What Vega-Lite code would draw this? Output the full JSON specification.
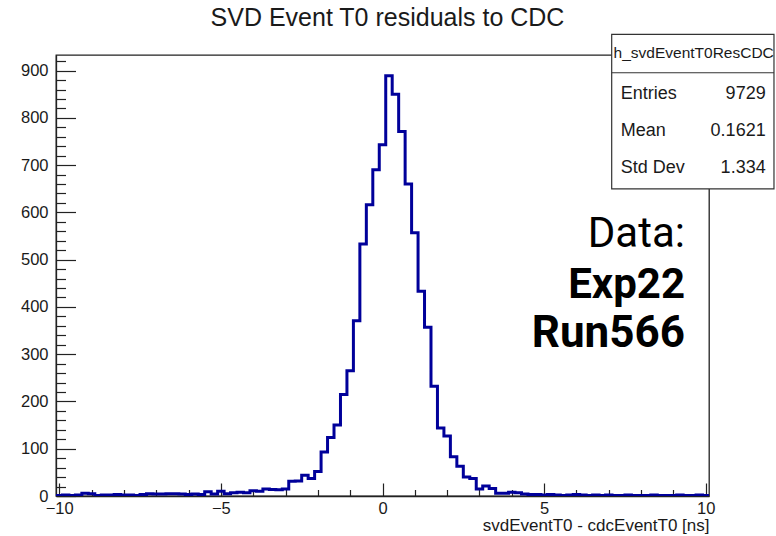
{
  "$schema": "https://vega.github.io/schema/vega-lite/v6.json",
  "width": 653,
  "height": 441,
  "autosize": {"type": "none"},
  "padding": {"left": 56, "top": 55, "right": 67, "bottom": 40},
  "background": "white",
  "config": {
    "view": {"stroke": "#222", "strokeWidth": 1.3},
    "font": "Liberation Sans"
  },
  "title": {
    "text": "SVD Event T0 residuals to CDC",
    "font": "Liberation Sans",
    "fontSize": 25,
    "fontWeight": "normal",
    "color": "#1a1a1a",
    "anchor": "middle",
    "frame": "group",
    "baseline": "alphabetic",
    "offset": -17,
    "dx": 5
  },
  "datasets": {
    "hist": [
      {"edge": -10.1, "entries": 1}, {"edge": -9.9, "entries": 2}, {"edge": -9.7, "entries": 1}, {"edge": -9.5, "entries": 2},
      {"edge": -9.3, "entries": 6}, {"edge": -9.1, "entries": 5}, {"edge": -8.9, "entries": 1}, {"edge": -8.7, "entries": 2},
      {"edge": -8.5, "entries": 2}, {"edge": -8.3, "entries": 3}, {"edge": -8.1, "entries": 2}, {"edge": -7.9, "entries": 2},
      {"edge": -7.7, "entries": 1}, {"edge": -7.5, "entries": 3}, {"edge": -7.3, "entries": 5}, {"edge": -7.1, "entries": 4},
      {"edge": -6.9, "entries": 4}, {"edge": -6.7, "entries": 5}, {"edge": -6.5, "entries": 5}, {"edge": -6.3, "entries": 4},
      {"edge": -6.1, "entries": 3}, {"edge": -5.9, "entries": 4}, {"edge": -5.7, "entries": 3}, {"edge": -5.5, "entries": 9},
      {"edge": -5.3, "entries": 4}, {"edge": -5.1, "entries": 10}, {"edge": -4.9, "entries": 5}, {"edge": -4.7, "entries": 7},
      {"edge": -4.5, "entries": 8}, {"edge": -4.3, "entries": 7}, {"edge": -4.1, "entries": 11}, {"edge": -3.9, "entries": 10},
      {"edge": -3.7, "entries": 15}, {"edge": -3.5, "entries": 14}, {"edge": -3.3, "entries": 13}, {"edge": -3.1, "entries": 15},
      {"edge": -2.9, "entries": 31}, {"edge": -2.7, "entries": 32}, {"edge": -2.5, "entries": 44}, {"edge": -2.3, "entries": 37},
      {"edge": -2.1, "entries": 52}, {"edge": -1.9, "entries": 93}, {"edge": -1.7, "entries": 124}, {"edge": -1.5, "entries": 150},
      {"edge": -1.3, "entries": 215}, {"edge": -1.1, "entries": 265}, {"edge": -0.9, "entries": 371}, {"edge": -0.7, "entries": 533},
      {"edge": -0.5, "entries": 616}, {"edge": -0.3, "entries": 690}, {"edge": -0.1, "entries": 743}, {"edge": 0.1, "entries": 889},
      {"edge": 0.3, "entries": 850}, {"edge": 0.5, "entries": 771}, {"edge": 0.7, "entries": 660}, {"edge": 0.9, "entries": 557},
      {"edge": 1.1, "entries": 433}, {"edge": 1.3, "entries": 357}, {"edge": 1.5, "entries": 232}, {"edge": 1.7, "entries": 144},
      {"edge": 1.9, "entries": 127}, {"edge": 2.1, "entries": 83}, {"edge": 2.3, "entries": 63}, {"edge": 2.5, "entries": 40},
      {"edge": 2.7, "entries": 37}, {"edge": 2.9, "entries": 15}, {"edge": 3.1, "entries": 21}, {"edge": 3.3, "entries": 16},
      {"edge": 3.5, "entries": 6}, {"edge": 3.7, "entries": 6}, {"edge": 3.9, "entries": 8}, {"edge": 4.1, "entries": 7},
      {"edge": 4.3, "entries": 4}, {"edge": 4.5, "entries": 3}, {"edge": 4.7, "entries": 3}, {"edge": 4.9, "entries": 2},
      {"edge": 5.1, "entries": 3}, {"edge": 5.3, "entries": 2}, {"edge": 5.5, "entries": 1}, {"edge": 5.7, "entries": 2},
      {"edge": 5.9, "entries": 3}, {"edge": 6.1, "entries": 2}, {"edge": 6.3, "entries": 1}, {"edge": 6.5, "entries": 2},
      {"edge": 6.7, "entries": 1}, {"edge": 6.9, "entries": 2}, {"edge": 7.1, "entries": 1}, {"edge": 7.3, "entries": 1},
      {"edge": 7.5, "entries": 2}, {"edge": 7.7, "entries": 1}, {"edge": 7.9, "entries": 1}, {"edge": 8.1, "entries": 1},
      {"edge": 8.3, "entries": 2}, {"edge": 8.5, "entries": 1}, {"edge": 8.7, "entries": 1}, {"edge": 8.9, "entries": 1},
      {"edge": 9.1, "entries": 2}, {"edge": 9.3, "entries": 1}, {"edge": 9.5, "entries": 1}, {"edge": 9.7, "entries": 2},
      {"edge": 9.9, "entries": 1}, {"edge": 10.1, "entries": 1}
    ],
    "stats": [
      {"name": "h_svdEventT0ResCDC", "stat": "Entries", "value": "9729"},
      {"name": "h_svdEventT0ResCDC", "stat": "Mean", "value": "0.1621"},
      {"name": "h_svdEventT0ResCDC", "stat": "Std Dev", "value": "1.334"}
    ],
    "run": [
      {"line": "Data:"},
      {"line": "Exp22"},
      {"line": "Run566"}
    ]
  },
  "resolve": {"axis": {"x": "independent", "y": "independent"}},
  "layer": [
    {
      "data": {"name": "hist"},
      "mark": {"type": "line", "interpolate": "step-after", "color": "#00009a", "strokeWidth": 3, "clip": true},
      "encoding": {
        "x": {
          "field": "edge", "type": "quantitative",
          "scale": {"domain": [-10.1, 10.1], "nice": false, "zero": false},
          "axis": {
            "orient": "bottom",
            "values": [-10, -5, 0, 5, 10],
            "tickSize": -13,
            "tickColor": "#222", "tickWidth": 1.2, "domainColor": "#222", "domainWidth": 1.3,
            "labelFont": "Liberation Sans", "labelFontSize": 16.5, "labelColor": "#1a1a1a",
            "labelPadding": 17, "labelFlush": false, "labelOverlap": false, "grid": false,
            "title": "svdEventT0 - cdcEventT0 [ns]",
            "titleFont": "Liberation Sans", "titleFontSize": 17, "titleFontWeight": "normal", "titleColor": "#1a1a1a",
            "titleAnchor": "end", "titleAlign": "right", "titleBaseline": "alphabetic", "titleX": 653, "titleY": 34.5
          }
        },
        "y": {
          "field": "entries", "type": "quantitative",
          "scale": {"domain": [0, 933], "nice": false},
          "axis": {
            "orient": "left",
            "values": [0, 100, 200, 300, 400, 500, 600, 700, 800, 900],
            "tickSize": -19.5,
            "tickColor": "#222", "tickWidth": 1.2, "domainColor": "#222", "domainWidth": 1.3,
            "labelFont": "Liberation Sans", "labelFontSize": 16.5, "labelColor": "#1a1a1a",
            "labelPadding": 27.5, "labelFlush": false, "labelOverlap": false, "grid": false,
            "title": null
          }
        }
      }
    },
    {
      "data": {"name": "hist"},
      "mark": {"type": "line", "interpolate": "step-after", "strokeOpacity": 0, "clip": true},
      "encoding": {
        "x": {
          "field": "edge", "type": "quantitative",
          "axis": {
            "orient": "bottom",
            "values": [-9, -8, -7, -6, -4, -3, -2, -1, 1, 2, 3, 4, 6, 7, 8, 9],
            "tickSize": -6.5, "tickColor": "#222", "tickWidth": 1.2,
            "labels": false, "domain": false, "grid": false, "title": null
          }
        },
        "y": {
          "field": "entries", "type": "quantitative",
          "axis": {
            "orient": "left",
            "values": [20, 40, 60, 80, 120, 140, 160, 180, 220, 240, 260, 280, 320, 340, 360, 380, 420, 440, 460, 480, 520, 540, 560, 580, 620, 640, 660, 680, 720, 740, 760, 780, 820, 840, 860, 880, 920],
            "tickSize": -9.5, "tickColor": "#222", "tickWidth": 1.2,
            "labels": false, "domain": false, "grid": false, "title": null
          }
        }
      }
    },
    {
      "data": {"name": "stats"},
      "transform": [{"filter": "datum.stat === 'Entries'"}],
      "layer": [
        {
          "mark": {"type": "rect", "fill": "white", "stroke": "#333", "strokeWidth": 1.2},
          "encoding": {
            "x": {"datum": 7.09, "type": "quantitative", "axis": null},
            "x2": {"datum": 12.11},
            "y": {"datum": 649.7, "type": "quantitative", "axis": null},
            "y2": {"datum": 976.6}
          }
        },
        {
          "mark": {"type": "rule", "stroke": "#333", "strokeWidth": 1.2},
          "encoding": {
            "x": {"datum": 7.09, "type": "quantitative", "axis": null},
            "x2": {"datum": 12.11},
            "y": {"datum": 895.4, "type": "quantitative", "axis": null}
          }
        },
        {
          "mark": {"type": "text", "font": "Liberation Sans", "fontSize": 15.5, "align": "center", "baseline": "middle", "color": "#1a1a1a"},
          "encoding": {
            "x": {"datum": 9.626, "type": "quantitative", "axis": null},
            "y": {"datum": 937, "type": "quantitative", "axis": null},
            "text": {"field": "name"}
          }
        }
      ]
    },
    {
      "data": {"name": "stats"},
      "transform": [{"filter": "datum.stat === 'Entries'"}],
      "encoding": {"y": {"datum": 850.4, "type": "quantitative", "axis": null}},
      "layer": [
        {"mark": {"type": "text", "font": "Liberation Sans", "fontSize": 18, "align": "left", "baseline": "middle", "color": "#1a1a1a"},
         "encoding": {"x": {"datum": 7.368, "type": "quantitative", "axis": null}, "text": {"field": "stat"}}},
        {"mark": {"type": "text", "font": "Liberation Sans", "fontSize": 18, "align": "right", "baseline": "middle", "color": "#1a1a1a"},
         "encoding": {"x": {"datum": 11.853, "type": "quantitative", "axis": null}, "text": {"field": "value"}}}
      ]
    },
    {
      "data": {"name": "stats"},
      "transform": [{"filter": "datum.stat === 'Mean'"}],
      "encoding": {"y": {"datum": 772.2, "type": "quantitative", "axis": null}},
      "layer": [
        {"mark": {"type": "text", "font": "Liberation Sans", "fontSize": 18, "align": "left", "baseline": "middle", "color": "#1a1a1a"},
         "encoding": {"x": {"datum": 7.368, "type": "quantitative", "axis": null}, "text": {"field": "stat"}}},
        {"mark": {"type": "text", "font": "Liberation Sans", "fontSize": 18, "align": "right", "baseline": "middle", "color": "#1a1a1a"},
         "encoding": {"x": {"datum": 11.853, "type": "quantitative", "axis": null}, "text": {"field": "value"}}}
      ]
    },
    {
      "data": {"name": "stats"},
      "transform": [{"filter": "datum.stat === 'Std Dev'"}],
      "encoding": {"y": {"datum": 694, "type": "quantitative", "axis": null}},
      "layer": [
        {"mark": {"type": "text", "font": "Liberation Sans", "fontSize": 18, "align": "left", "baseline": "middle", "color": "#1a1a1a"},
         "encoding": {"x": {"datum": 7.368, "type": "quantitative", "axis": null}, "text": {"field": "stat"}}},
        {"mark": {"type": "text", "font": "Liberation Sans", "fontSize": 18, "align": "right", "baseline": "middle", "color": "#1a1a1a"},
         "encoding": {"x": {"datum": 11.853, "type": "quantitative", "axis": null}, "text": {"field": "value"}}}
      ]
    },
    {
      "data": {"name": "run"},
      "transform": [{"filter": "datum.line === 'Data:'"}],
      "mark": {"type": "text", "font": "Roboto", "fontSize": 42, "fontWeight": "normal", "align": "right", "baseline": "alphabetic", "color": "#000"},
      "encoding": {"x": {"datum": 9.357, "type": "quantitative", "axis": null}, "y": {"datum": 527, "type": "quantitative", "axis": null}, "text": {"field": "line"}}
    },
    {
      "data": {"name": "run"},
      "transform": [{"filter": "datum.line === 'Exp22'"}],
      "mark": {"type": "text", "font": "Roboto", "fontSize": 42, "fontWeight": "bold", "align": "right", "baseline": "alphabetic", "color": "#000"},
      "encoding": {"x": {"datum": 9.357, "type": "quantitative", "axis": null}, "y": {"datum": 419, "type": "quantitative", "axis": null}, "text": {"field": "line"}}
    },
    {
      "data": {"name": "run"},
      "transform": [{"filter": "datum.line === 'Run566'"}],
      "mark": {"type": "text", "font": "Roboto", "fontSize": 44, "fontWeight": "bold", "align": "right", "baseline": "alphabetic", "color": "#000"},
      "encoding": {"x": {"datum": 9.357, "type": "quantitative", "axis": null}, "y": {"datum": 316, "type": "quantitative", "axis": null}, "text": {"field": "line"}}
    }
  ]
}
